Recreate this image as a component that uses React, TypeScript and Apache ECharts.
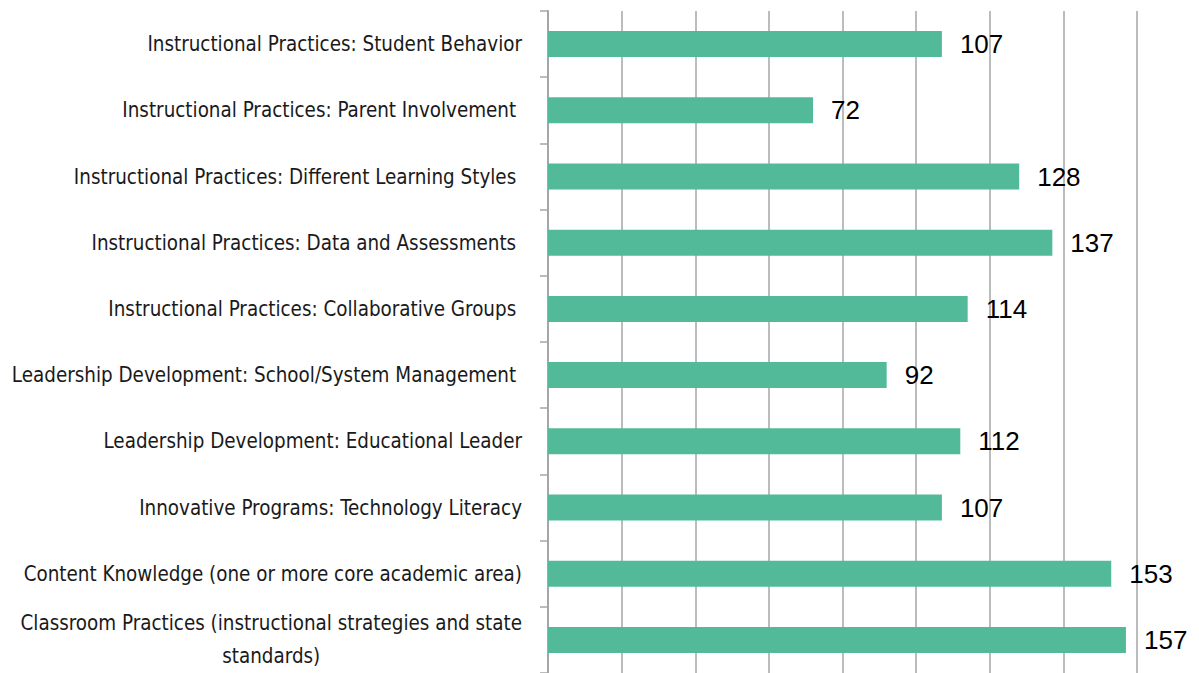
import React, { useEffect, useRef } from "react";
import * as echarts from "echarts";

// Bottom-to-top order (ECharts category y-axis starts at the bottom)
const categories: string[] = [
  "Classroom Practices (instructional strategies and state\nstandards)",
  "Content Knowledge (one or more core academic area)",
  "Innovative Programs: Technology Literacy",
  "Leadership Development: Educational Leader",
  "Leadership Development: School/System Management ",
  "Instructional Practices: Collaborative Groups ",
  "Instructional Practices: Data and Assessments ",
  "Instructional Practices: Different Learning Styles ",
  "Instructional Practices: Parent Involvement ",
  "Instructional Practices: Student Behavior",
];

const values: number[] = [157, 153, 107, 112, 92, 114, 137, 128, 72, 107];

const axisMin = 0;
const axisMax = 160;
const axisInterval = 20;

const labelFont = "'DejaVu Sans Condensed', 'Liberation Sans Narrow', sans-serif";

export default function App() {
  const ref = useRef<HTMLDivElement>(null);

  useEffect(() => {
    if (!ref.current) return;
    const chart = echarts.init(ref.current, undefined, { renderer: "svg" });
    chart.setOption({
      animation: false,
      backgroundColor: "#ffffff",
      grid: {
        left: 548,
        right: 62,
        top: 11,
        bottom: 0,
        containLabel: false,
        outerBoundsMode: "none",
      },
      xAxis: {
        type: "value",
        min: axisMin,
        max: axisMax,
        interval: axisInterval,
        axisLabel: { show: false },
        axisLine: { show: false },
        axisTick: { show: false },
        splitLine: { show: true, lineStyle: { color: "#a6a6a6", width: 1.5 } },
      },
      yAxis: {
        type: "category",
        data: categories,
        axisLine: { show: true, lineStyle: { color: "#a6a6a6", width: 2 } },
        axisTick: { show: true, length: 8, lineStyle: { color: "#a6a6a6", width: 1.5 } },
        axisLabel: {
          margin: 26,
          color: "#1a1a1a",
          fontFamily: labelFont,
          fontSize: 20.4,
          lineHeight: 33,
          formatter: (v: string) =>
            v
              .split("\n")
              .map((l) => `{c|${l}}`)
              .join("\n"),
          rich: {
            c: {
              align: "center",
              color: "#1a1a1a",
              fontFamily: labelFont,
              fontSize: 20.4,
              lineHeight: 33,
            },
          },
        },
      },
      series: [
        {
          type: "bar",
          data: values,
          barWidth: 26,
          itemStyle: { color: "#52ba98" },
          label: {
            show: true,
            position: "right",
            distance: 18,
            color: "#000000",
            fontFamily: "Liberation Sans",
            fontSize: 26,
          },
        },
      ],
    });
    return () => chart.dispose();
  }, []);

  return (
    <div
      ref={ref}
      style={{ position: "fixed", left: 0, top: 0, width: 1199, height: 673, background: "#fff" }}
    />
  );
}
